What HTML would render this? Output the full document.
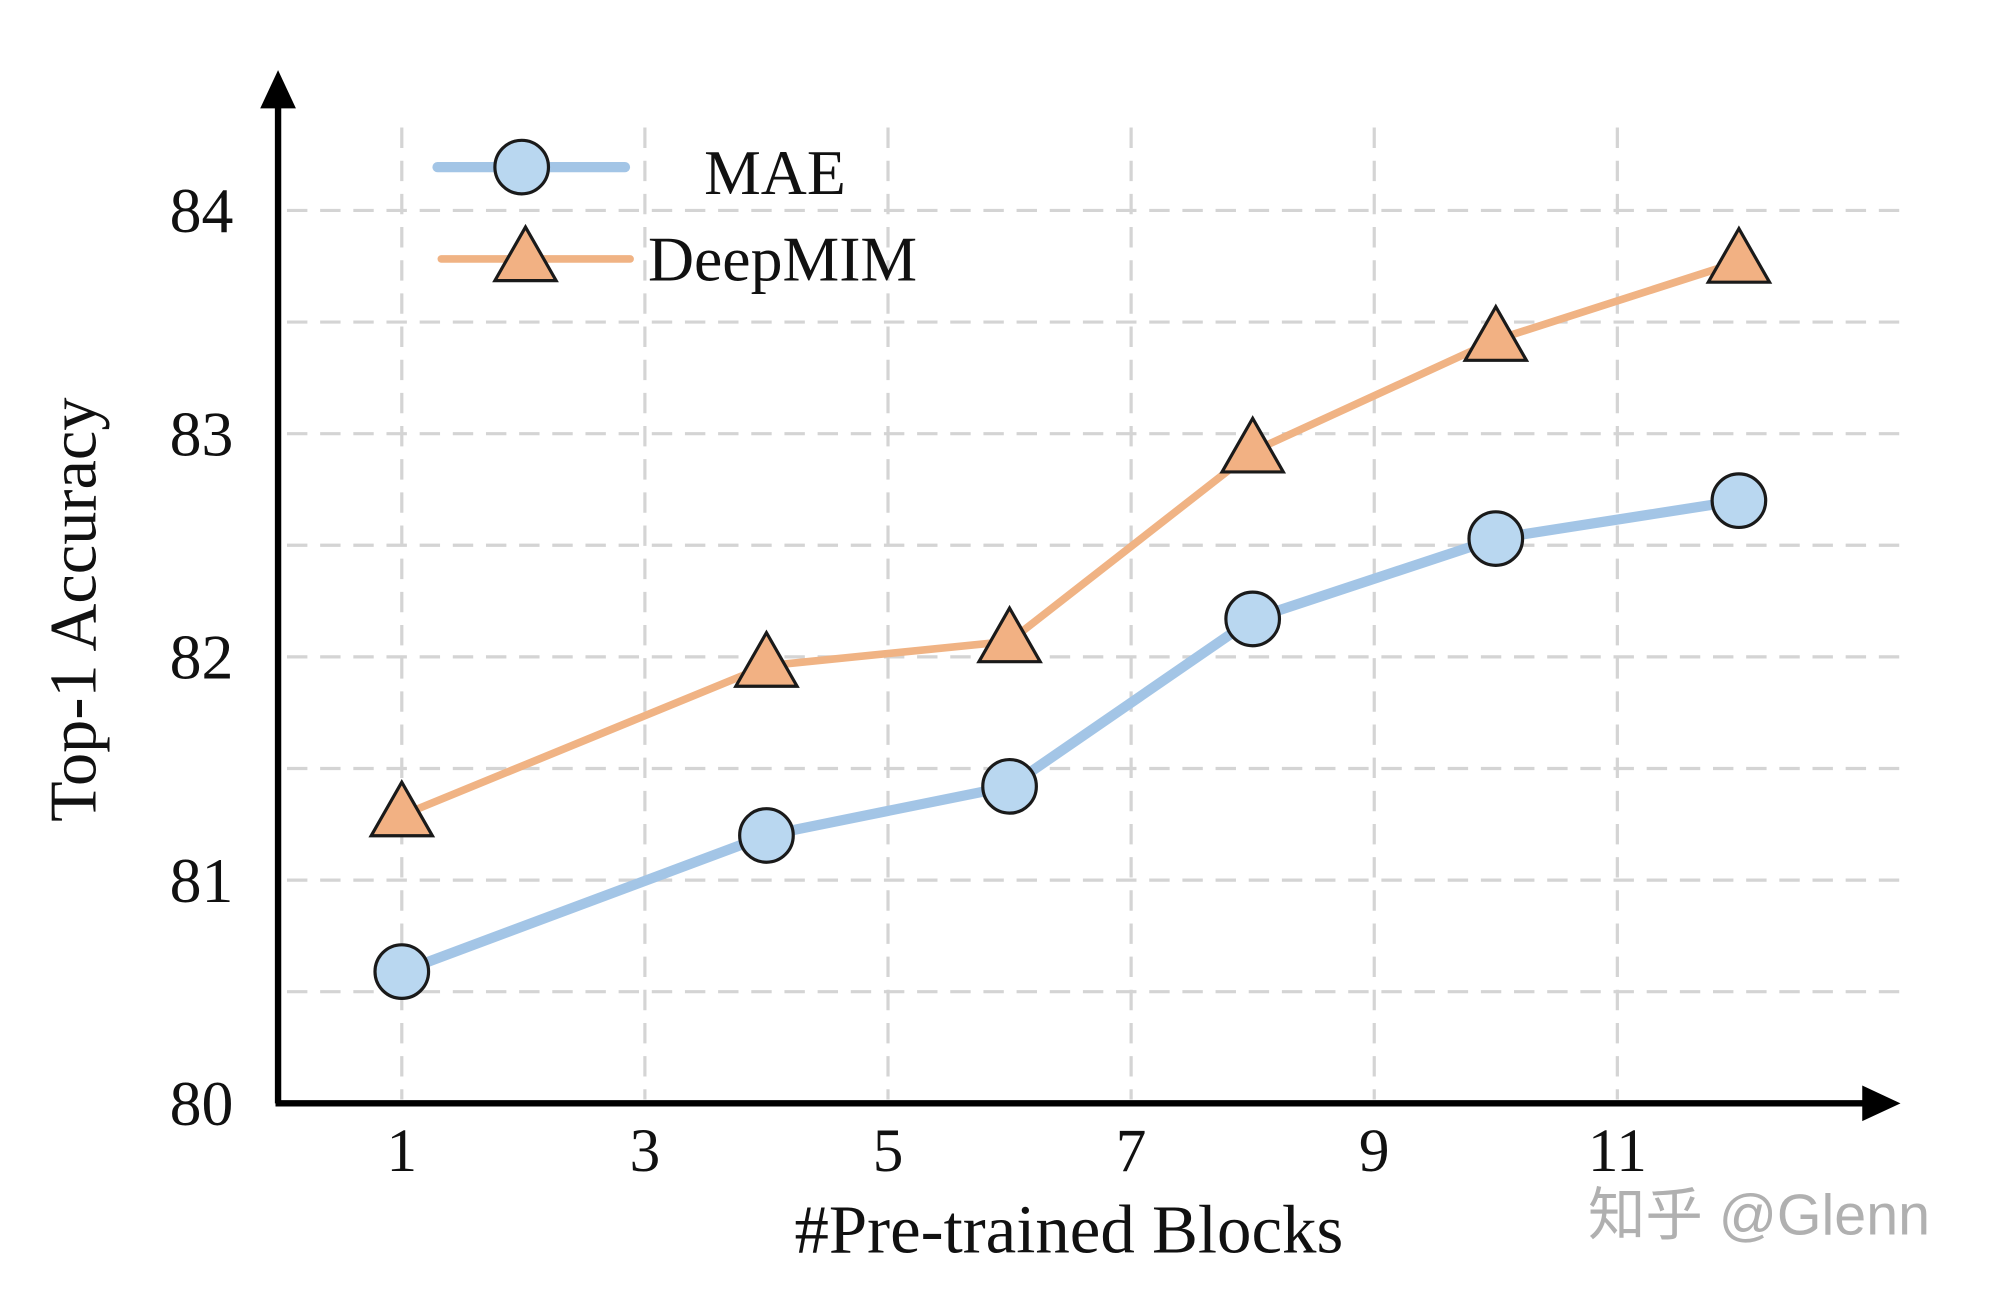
<!DOCTYPE html>
<html><head><meta charset="utf-8"><style>
html,body{margin:0;padding:0;background:#fff;}
svg{display:block;}
text{font-family:"Liberation Serif",serif;fill:#111;}
</style></head><body>
<svg id="chart" width="2000" height="1295" viewBox="0 0 1568 1015" preserveAspectRatio="xMinYMin meet" xmlns="http://www.w3.org/2000/svg">
<g id="grid"></g>
<g id="axes">
<line x1="218" y1="865" x2="218" y2="80" stroke="#000" stroke-width="5"/>
<polygon points="218,55 204,85 232,85" fill="#000"/>
<line x1="216" y1="865" x2="1465" y2="865" stroke="#000" stroke-width="5"/>
<polygon points="1490,865 1460,851 1460,879" fill="#000"/>
</g>
<g id="ticks"></g>
<g id="series"></g>
<text x="75" y="478" font-size="52" text-anchor="middle" transform="rotate(-90 75 478)">Top-1 Accuracy</text>
<text x="838" y="982" font-size="54" text-anchor="middle">#Pre-trained Blocks</text>
<g>
<g>
<line x1="343" y1="131" x2="490" y2="131" stroke="#a3c5e6" stroke-width="8" stroke-linecap="round"/>
<circle cx="409" cy="131" r="21" fill="#b9d7f0" stroke="#1a1a1a" stroke-width="2.5"/>
<text x="552" y="152" font-size="50">MAE</text>
</g>
<g>
<line x1="346" y1="203" x2="494" y2="203" stroke="#f0b384" stroke-width="6" stroke-linecap="round"/>
<polygon points="412,178 388,220 436,220" fill="#f2b183" stroke="#1a1a1a" stroke-width="2.5"/>
<text x="508" y="220" font-size="50">DeepMIM</text>
</g>
</g>
<text x="1245" y="968" font-size="45" style="fill:#b0b0b0;font-family:'Liberation Sans','Noto Sans CJK SC',sans-serif">知乎 @Glenn</text>
</svg>
<script>
const xTicks=[1,3,5,7,9,11];
const yTicks=[80,81,82,83,84];
const yGrid=[80.5,81,81.5,82,82.5,83,83.5,84];
const blocks=[1,4,6,8,10,12];
const maeValues=[80.59,81.2,81.42,82.17,82.53,82.7];
const deepmimValues=[81.29,81.96,82.07,82.92,83.42,83.77];
const NS="http://www.w3.org/2000/svg";
function xs(v){return 315+(v-1)*95.3;}
function ys(v){return 865-(v-80)*175;}
function mk(tag,attrs,parent){const e=document.createElementNS(NS,tag);for(const k in attrs)e.setAttribute(k,attrs[k]);parent.appendChild(e);return e;}
const grid=document.getElementById('grid'),ticks=document.getElementById('ticks'),series=document.getElementById('series');
yGrid.forEach(v=>{const l=mk('line',{x1:225,x2:1490,y1:ys(v),y2:ys(v),stroke:'#d4d4d4','stroke-width':2.5,'stroke-dasharray':'16,10'},grid);

});
xTicks.forEach(v=>{const l=mk('line',{x1:xs(v),x2:xs(v),y1:100,y2:862,stroke:'#d4d4d4','stroke-width':2.5,'stroke-dasharray':'16,10'},grid);


const t=mk('text',{x:xs(v),y:918,'font-size':48,'text-anchor':'middle'},ticks);t.textContent=v;

});
yTicks.forEach(v=>{const t=mk('text',{x:183,y:ys(v)+17,'font-size':50,'text-anchor':'end'},ticks);t.textContent=v;

});
const mp=maeValues.map((v,i)=>xs(blocks[i])+','+ys(v)).join(' ');
const ml=mk('polyline',{points:mp,fill:'none',stroke:'#a3c5e6','stroke-width':8,'stroke-linejoin':'round','stroke-linecap':'round'},series);


const dp=deepmimValues.map((v,i)=>xs(blocks[i])+','+ys(v)).join(' ');
const dl=mk('polyline',{points:dp,fill:'none',stroke:'#f0b384','stroke-width':6,'stroke-linejoin':'round','stroke-linecap':'round'},series);


maeValues.forEach((v,i)=>{const c=mk('circle',{cx:xs(blocks[i]),cy:ys(v),r:21,fill:'#b9d7f0',stroke:'#1a1a1a','stroke-width':2.5},series);

});
deepmimValues.forEach((v,i)=>{const x=xs(blocks[i]),y=ys(v);
const p=mk('polygon',{points:`${x},${y-26} ${x-24},${y+16} ${x+24},${y+16}`,fill:'#f2b183',stroke:'#1a1a1a','stroke-width':2.5},series);

});
</script>
</body></html>
